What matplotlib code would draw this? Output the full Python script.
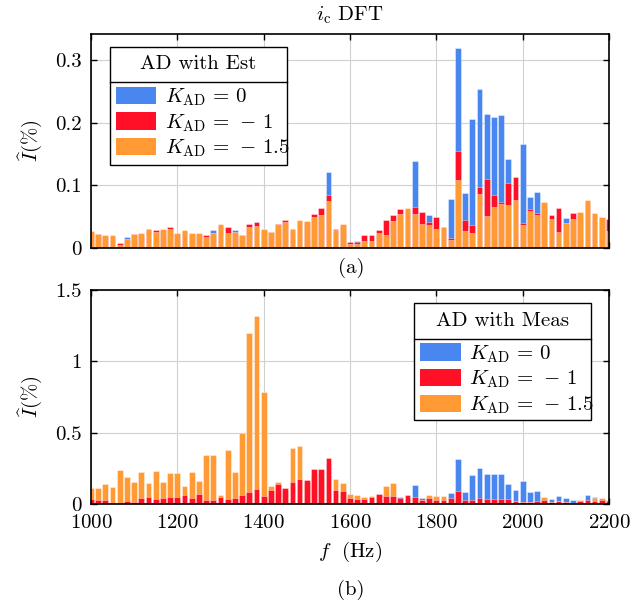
import matplotlib
matplotlib.use("Agg")
import matplotlib.pyplot as plt
from matplotlib.patches import Patch, Rectangle
import numpy as np

plt.rcParams['font.family'] = 'serif'
plt.rcParams['font.serif'] = ['cmr10']
plt.rcParams['mathtext.fontset'] = 'cm'
plt.rcParams['axes.formatter.use_mathtext'] = True

# frequency bins (Hz), 1000 .. 2200 with 50/3 Hz spacing
freq = [1000.0, 1016.7, 1033.3, 1050.0, 1066.7, 1083.3, 1100.0, 1116.7, 1133.3, 1150.0,
        1166.7, 1183.3, 1200.0, 1216.7, 1233.3, 1250.0, 1266.7, 1283.3, 1300.0, 1316.7,
        1333.3, 1350.0, 1366.7, 1383.3, 1400.0, 1416.7, 1433.3, 1450.0, 1466.7, 1483.3,
        1500.0, 1516.7, 1533.3, 1550.0, 1566.7, 1583.3, 1600.0, 1616.7, 1633.3, 1650.0,
        1666.7, 1683.3, 1700.0, 1716.7, 1733.3, 1750.0, 1766.7, 1783.3, 1800.0, 1816.7,
        1833.3, 1850.0, 1866.7, 1883.3, 1900.0, 1916.7, 1933.3, 1950.0, 1966.7, 1983.3,
        2000.0, 2016.7, 2033.3, 2050.0, 2066.7, 2083.3, 2100.0, 2116.7, 2133.3, 2150.0,
        2166.7, 2183.3, 2200.0]

# (a) AD with Est
est_k0 = [0.020, 0.018, 0.015, 0.016, 0.004, 0.018, 0.020, 0.020, 0.027, 0.022,
          0.026, 0.028, 0.020, 0.024, 0.020, 0.020, 0.015, 0.029, 0.034, 0.022,
          0.028, 0.018, 0.030, 0.036, 0.026, 0.022, 0.032, 0.038, 0.026, 0.038,
          0.038, 0.045, 0.050, 0.121, 0.025, 0.033, 0.007, 0.011, 0.010, 0.010,
          0.020, 0.020, 0.040, 0.050, 0.058, 0.139, 0.040, 0.053, 0.030, 0.030,
          0.079, 0.319, 0.088, 0.206, 0.254, 0.214, 0.210, 0.213, 0.1425, 0.100,
          0.166, 0.082, 0.089, 0.065, 0.045, 0.050, 0.048, 0.045, 0.050, 0.068,
          0.050, 0.045, 0.040]
est_k1 = [0.025, 0.022, 0.019, 0.019, 0.0075, 0.013, 0.022, 0.023, 0.030, 0.028,
          0.029, 0.033, 0.023, 0.027, 0.023, 0.023, 0.020, 0.023, 0.037, 0.034,
          0.024, 0.020, 0.039, 0.042, 0.029, 0.025, 0.039, 0.044, 0.030, 0.043,
          0.042, 0.055, 0.064, 0.085, 0.030, 0.037, 0.009, 0.009, 0.021, 0.020,
          0.029, 0.044, 0.053, 0.063, 0.063, 0.065, 0.058, 0.041, 0.049, 0.033,
          0.016, 0.155, 0.044, 0.036, 0.098, 0.110, 0.085, 0.074, 0.104, 0.114,
          0.040, 0.063, 0.056, 0.072, 0.053, 0.064, 0.039, 0.056, 0.056, 0.075,
          0.055, 0.048, 0.047]
est_k15 = [0.027, 0.023, 0.020, 0.020, 0.005, 0.014, 0.023, 0.024, 0.031, 0.026,
           0.030, 0.031, 0.024, 0.028, 0.024, 0.024, 0.018, 0.024, 0.039, 0.024,
           0.025, 0.021, 0.033, 0.035, 0.030, 0.026, 0.036, 0.042, 0.031, 0.044,
           0.043, 0.049, 0.053, 0.0745, 0.028, 0.038, 0.006, 0.007, 0.012, 0.012,
           0.024, 0.021, 0.043, 0.055, 0.064, 0.055, 0.039, 0.036, 0.030, 0.034,
           0.013, 0.109, 0.027, 0.024, 0.086, 0.0505, 0.066, 0.071, 0.068, 0.077,
           0.037, 0.0585, 0.052, 0.073, 0.047, 0.025, 0.040, 0.046, 0.057, 0.076,
           0.056, 0.0495, 0.027]

# (b) AD with Meas
meas_k0 = [0.030, 0.025, 0.025, 0.008, 0.008, 0.020, 0.015, 0.035, 0.045, 0.030,
           0.040, 0.045, 0.045, 0.055, 0.040, 0.060, 0.028, 0.034, 0.040, 0.030,
           0.038, 0.055, 0.070, 0.090, 0.050, 0.080, 0.120, 0.100, 0.130, 0.150,
           0.150, 0.210, 0.210, 0.280, 0.080, 0.080, 0.045, 0.030, 0.030, 0.040,
           0.060, 0.050, 0.050, 0.051, 0.045, 0.135, 0.044, 0.051, 0.045, 0.040,
           0.079, 0.317, 0.086, 0.205, 0.252, 0.212, 0.207, 0.212, 0.142, 0.096,
           0.163, 0.082, 0.091, 0.042, 0.037, 0.056, 0.042, 0.026, 0.020, 0.063,
           0.047, 0.030, 0.025]
meas_k1 = [0.037, 0.026, 0.026, 0.009, 0.009, 0.023, 0.016, 0.042, 0.051, 0.033,
           0.044, 0.051, 0.051, 0.063, 0.044, 0.068, 0.030, 0.028, 0.047, 0.033,
           0.042, 0.065, 0.082, 0.107, 0.054, 0.096, 0.138, 0.114, 0.152, 0.175,
           0.168, 0.247, 0.247, 0.322, 0.096, 0.093, 0.044, 0.033, 0.035, 0.047,
           0.070, 0.058, 0.054, 0.040, 0.061, 0.047, 0.030, 0.040, 0.030, 0.030,
           0.042, 0.089, 0.026, 0.026, 0.040, 0.037, 0.035, 0.035, 0.035, 0.021,
           0.016, 0.016, 0.019, 0.028, 0.014, 0.021, 0.014, 0.009, 0.021, 0.026,
           0.021, 0.026, 0.019]
meas_k15 = [0.114, 0.114, 0.142, 0.119, 0.240, 0.186, 0.152, 0.224, 0.147, 0.228,
            0.152, 0.219, 0.219, 0.126, 0.224, 0.163, 0.340, 0.345, 0.065, 0.380,
            0.221, 0.499, 1.200, 1.317, 0.786, 0.128, 0.156, 0.100, 0.392, 0.408,
            0.150, 0.200, 0.200, 0.250, 0.172, 0.149, 0.070, 0.063, 0.051, 0.058,
            0.060, 0.124, 0.147, 0.030, 0.050, 0.040, 0.025, 0.063, 0.058, 0.054,
            0.035, 0.060, 0.020, 0.020, 0.030, 0.030, 0.030, 0.030, 0.030, 0.018,
            0.012, 0.012, 0.015, 0.051, 0.012, 0.018, 0.012, 0.007, 0.030, 0.020,
            0.042, 0.040, 0.030]

labels = [r'$K_{\mathrm{AD}}\,=\,0$', r'$K_{\mathrm{AD}}\,=\,-\,1$', r'$K_{\mathrm{AD}}\,=\,-\,1.5$']
c_blue = '#4a86f0'
c_red = '#ff1026'
c_orange = '#ff9a35'
fs = 15

fig = plt.figure(figsize=(6.44, 6.03), dpi=100)
ax1 = fig.add_axes([0.1413, 0.5887, 0.8043, 0.3549])
ax2 = fig.add_axes([0.1413, 0.1642, 0.8043, 0.3549])

w = 50.0 / 3 * 0.8


def bars(ax, y, col):
    ax.bar(freq, y, width=w, color=col, edgecolor=(1, 1, 1, 0.45), linewidth=0.6, zorder=2)


bars(ax1, est_k0, c_blue)
bars(ax1, est_k1, c_red)
bars(ax1, est_k15, c_orange)

bars(ax2, meas_k0, c_blue)
bars(ax2, meas_k15, c_orange)
bars(ax2, meas_k1, c_red)

ax1.set_ylim(0, 0.342)
ax1.set_yticks([0, 0.1, 0.2, 0.3], ['0', '0.1', '0.2', '0.3'])
ax2.set_ylim(0, 1.5)
ax2.set_yticks([0, 0.5, 1.0, 1.5], ['0', '0.5', '1', '1.5'])

for ax in (ax1, ax2):
    ax.set_xlim(1000, 2200)
    ax.set_xticks([1000, 1200, 1400, 1600, 1800, 2000, 2200])
    ax.grid(True, color='#d0d0d0', linewidth=0.8, zorder=0)
    ax.set_axisbelow(True)
    ax.tick_params(direction='in', top=True, right=True, labelsize=fs, length=4, width=1)
    ax.tick_params(axis='y', pad=7)
    ax.tick_params(axis='x', pad=7)
    for s in ax.spines.values():
        s.set_linewidth(1.2)
    ax.set_ylabel(r'$\widehat{I}(\%)$', fontsize=fs)
    ax.yaxis.set_label_coords(-0.09, 0.5)

ax1.tick_params(labelbottom=False)
ax2.set_xlabel(r'$f\ $ (Hz)', fontsize=fs, labelpad=6)
ax1.set_title(r'$i_{\mathrm{c}}$ DFT', fontsize=fs, pad=10)

fig.text(0.5448, 1 - 268 / 603, '(a)', ha='center', va='center', fontsize=fs)
fig.text(0.5448, 1 - 590 / 603, '(b)', ha='center', va='center', fontsize=fs)

handles = [Patch(facecolor=c, edgecolor='none') for c in (c_blue, c_red, c_orange)]


def legend_box(ax, title, box, sep, entry_anchor):
    # box = (x0, y0, x1, y1) in axes fraction
    x0, y0, x1, y1 = box
    ax.add_patch(Rectangle((x0, y0), x1 - x0, y1 - y0, transform=ax.transAxes,
                           facecolor='white', edgecolor='black', linewidth=1.0,
                           zorder=5, clip_on=False))
    ax.plot([x0, x1], [sep, sep], transform=ax.transAxes, color='black',
            linewidth=1.0, zorder=6, clip_on=False)
    ax.text((x0 + x1) / 2, (sep + y1) / 2, title, transform=ax.transAxes,
            ha='center', va='center', fontsize=fs, zorder=7)
    leg = ax.legend(handles, labels, loc='upper left', bbox_to_anchor=entry_anchor,
                    borderaxespad=0, borderpad=0, frameon=False, fontsize=fs,
                    handlelength=1.95, handleheight=0.9, labelspacing=0.2,
                    handletextpad=0.4)
    leg.set_zorder(8)
    return leg


legend_box(ax1, 'AD with Est', (0.0367, 0.388, 0.3784, 0.939), 0.776, (0.048, 0.755))
legend_box(ax2, 'AD with Meas', (0.6236, 0.3925, 0.9653, 0.939), 0.771, (0.636, 0.752))

fig.savefig('out.png', dpi=100)
